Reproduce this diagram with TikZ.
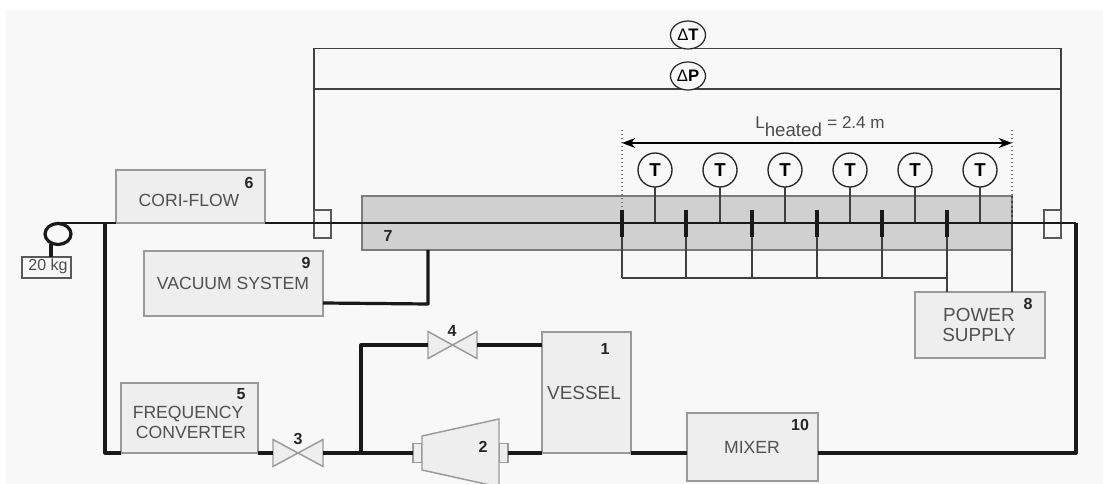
\documentclass[tikz,border=0pt]{standalone}
\usepackage{fontspec}
\setmainfont{Liberation Sans}
\usetikzlibrary{arrows.meta,shapes.geometric}
\definecolor{bgc}{HTML}{F8F8F8}
\definecolor{boxf}{HTML}{EEEEEE}
\definecolor{boxd}{HTML}{9A9A9A}
\definecolor{tubef}{HTML}{D0D0D0}
\definecolor{txt}{HTML}{505050}
\newcommand{\bx}[6]{% name x1 y1 x2 y2 style
  \node[#6,minimum width={(#4-#2)*0.75pt},minimum height={(#5-#3)*0.75pt}] (#1) at ({(#2+#4)/2},{(#3+#5)/2}) {};}
\tikzset{
  boxn/.style={draw=boxd,fill=boxf,line width=1.1pt,inner sep=0pt,outer sep=0pt},
  tuben/.style={draw=boxd!80!black,fill=tubef,line width=1.1pt,inner sep=0pt,outer sep=0pt},
  smallbox/.style={draw=black!65,fill=bgc,line width=1pt,inner sep=0pt,outer sep=0pt},
  ghost/.style={inner sep=0pt,outer sep=0pt},
  pipe/.style={line width=1.9pt,black!90,line join=round},
  heavypipe/.style={line width=2.4pt,black!90,line join=round},
  wire/.style={line width=0.9pt,black!75},
  electrode/.style={line width=2.3pt,black!90},
  valvesh/.style={draw=boxd,fill=boxf,line width=1.1pt,line join=miter},
  lab/.style={font=\fontsize{13.2}{13.2}\selectfont,text=txt,inner sep=0pt},
  labw/.style={font=\fontsize{14.2}{14.2}\selectfont,text=txt,inner sep=0pt},
  num/.style={font=\bfseries\fontsize{12}{12}\selectfont,text=black!85,inner sep=0pt},
  tc/.style={circle,draw=black!85,fill=bgc,line width=1pt,minimum size={34*0.75pt},inner sep=0pt,outer sep=0pt,font=\bfseries\fontsize{14}{14}\selectfont},
  dc/.style={ellipse,draw=black!85,fill=bgc,line width=0.9pt,inner sep=0pt,outer sep=0pt,font=\bfseries\fontsize{12.5}{12.5}\selectfont},
  dimline/.style={line width=0.9pt,black,{Stealth[length=10pt,width=7.5pt]}-{Stealth[length=10pt,width=7.5pt]}},
  guide/.style={line width=1pt,black!55,dotted},
}
\newcommand{\dlt}{{\mdseries Δ}}
\begin{document}
\begin{tikzpicture}[x=0.75pt,y=-0.75pt]
\useasboundingbox (0,0) rectangle (1103,484);
\fill[white] (0,0) rectangle (1103,484);
\fill[bgc] (6,10) rectangle (1103,484);
% tube
\bx{tube}{362}{196}{1012}{250}{tuben}
% boxes
\bx{cori}{116}{170}{265}{223}{boxn}
\bx{vac}{144}{251}{323}{316}{boxn}
\bx{freq}{121}{383}{258}{453}{boxn}
\bx{vessel}{542}{332}{631}{453}{boxn}
\bx{mixer}{687}{413}{818}{481}{boxn}
\bx{power}{915}{292}{1045}{358}{boxn}
\bx{weight}{22}{257}{71}{278}{smallbox}
\bx{sensL}{314}{210}{331}{238}{smallbox}
\bx{sensR}{1044}{210}{1061}{238}{smallbox}
% coordinates
\coordinate (pulleyTop) at (58,223);
\coordinate (pipeL) at (105,223);
\coordinate (pipeLb) at (105,453);
\coordinate (pipeR) at (1076,223);
\coordinate (pipeRb) at (1076,453);
\coordinate (vacOut) at (323,303);
\coordinate (vacCorner) at (428,304);
\coordinate (vacTube) at (428,250);
\coordinate (jB) at (361,453);
\coordinate (jT) at (361,345);
\coordinate (vesselIn) at (542,345);
\coordinate (vesselOut) at (631,453);
\coordinate (mixIn) at (687,453);
\coordinate (mixOut) at (818,453);
\coordinate (freqOut) at (258,453);
\coordinate (freqIn) at (121,453);
\coordinate (vesselLow) at (542,453);
\coordinate (heatEnd) at (1012,223);
% pulley
\draw[heavypipe] (58,234) ellipse (13 and 10.5);
\node[ghost,minimum size=0pt] (hang) at (51,244) {};
\draw[heavypipe] (hang) -- (hang |- weight.north);
% valves
\bx{valveC}{273}{439.5}{323}{466.5}{ghost}
\bx{valveD}{428}{331.5}{477}{358.5}{ghost}
\foreach \v in {valveC,valveD}{
  \draw[valvesh] (\v.north west) -- (\v.south east) -- (\v.north east) -- (\v.south west) -- cycle;
}
% compressor
\bx{stubL}{413}{443.5}{422}{462.5}{boxn}
\bx{stubR}{499}{443.5}{508}{462.5}{boxn}
\bx{comp}{422}{419}{499}{487}{ghost}
\draw[valvesh] (comp.north east) -- (comp.south east) -- (422,470) -- (422,436) -- cycle;
% pipes
\draw[pipe] (pulleyTop) -- (cori.south west);
\draw[heavypipe] (pipeL) -- (pipeLb) -- (freqIn);
\draw[heavypipe] (freqOut) -- (valveC.west);
\draw[heavypipe] (valveC.east) -- (stubL.west);
\draw[heavypipe] (jB) -- (jT) -- (valveD.west);
\draw[heavypipe] (valveD.east) -- (vesselIn);
\draw[heavypipe] (stubR.east) -- (vesselLow);
\draw[heavypipe] (vesselOut) -- (mixIn);
\draw[heavypipe] (mixOut) -- (pipeRb) -- (pipeR);
\draw[heavypipe] (vacOut) -- (vacCorner) -- (vacTube);
% dP dT lines
\coordinate (dTl) at (314,48.5);
\coordinate (dTr) at (1061,48.5);
\coordinate (dPl) at (314,89);
\coordinate (dPr) at (1061,89);
\draw[wire] (sensL.north west) -- (dTl) -- (dTr) -- (sensR.north east);
\draw[wire] (dPl) -- (dPr);
\node[dc,minimum width={35*0.75pt},minimum height={28*0.75pt}] (dT) at (688,35) {\dlt T};
\node[dc,minimum width={35*0.75pt},minimum height={28*0.75pt}] (dP) at (688,76) {\dlt P};
% heated length
\coordinate (g1a) at (622,130); \coordinate (g1b) at (622,210);
\coordinate (g2a) at (1012,130); \coordinate (g2b) at (1012,223);
\draw[guide] (g1a) -- (g1b);
\draw[guide] (g2a) -- (g2b);
\coordinate (d1) at (622,143); \coordinate (d2) at (1012,143);
\draw[dimline] (d1) -- (d2);
\node[font=\fontsize{12.8}{12.8}\selectfont,text=black!70,inner sep=0pt] (lh) at (820,127) {L\textsubscript{\fontsize{14}{14}\selectfont heated} = 2.4 m};
% thermocouples
\foreach \i/\x in {1/655,2/720,3/785,4/850,5/915,6/980}{
  \node[tc] (T\i) at (\x,170) {T};
  \coordinate (Tb\i) at (\x,223);
  \draw[wire] (T\i) -- (Tb\i);
}
% electrodes and buses
\foreach \i/\x in {1/622,2/686,3/752,4/817,5/882,6/947}{
  \coordinate (ea\i) at (\x,210);
  \coordinate (eb\i) at (\x,237);
  \coordinate (ec\i) at (\x,278);
  \draw[wire] (eb\i) -- (ec\i);
  \draw[electrode] (ea\i) -- (eb\i);
}
\draw[wire] (ec1) -- (ec6);
\draw[wire] (ec6) -- (ec6 |- power.north);
\draw[wire] (heatEnd) -- (heatEnd |- power.north);
\draw[line width=1.6pt,black!75,dotted] (1012,196) -- (heatEnd);
% main pipe
\draw[pipe] (cori.south east) -- (pipeR);
% texts
\node[lab] (t6) at (189,200) {CORI-FLOW};
\node[lab] (t9) at (233,283) {VACUUM SYSTEM};
\node[lab] (t5a) at (188,414) {FREQUENCY};
\node[lab] (t5b) at (191,432) {CONVERTER};
\node[labw] (t8a) at (979,315) {POWER};
\node[labw] (t8b) at (979,335) {SUPPLY};
\node[labw] (t1) at (584,393) {VESSEL};
\node[lab] (t10) at (752,447) {MIXER};
\node[font=\fontsize{12}{12}\selectfont,text=black!70,inner sep=0pt] (tw) at (48,266) {20 kg};
\node[num] (n6) at (249,183) {6};
\node[num] (n9) at (306,263) {9};
\node[num] (n5) at (241,394) {5};
\node[num] (n3) at (298,439) {3};
\node[num] (n4) at (452,331) {4};
\node[num] (n2) at (483,447) {2};
\node[num] (n1) at (605,349) {1};
\node[num] (n7) at (388,236) {7};
\node[num] (n8) at (1028,304) {8};
\node[num] (n10) at (800,425) {10};
\end{tikzpicture}
\end{document}
